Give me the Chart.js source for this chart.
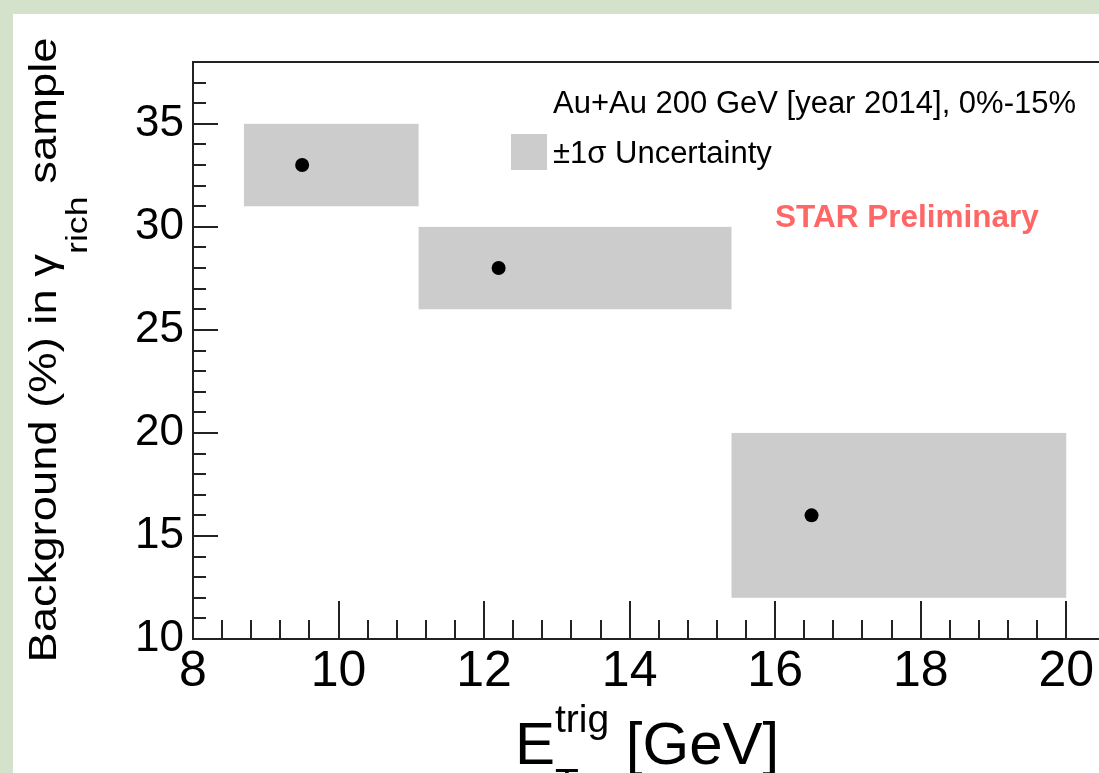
<!DOCTYPE html>
<html>
<head>
<meta charset="utf-8">
<script src="https://cdn.jsdelivr.net/npm/chart.js@4.4.1/dist/chart.umd.min.js"></script>
<style>
  html, body { margin: 0; padding: 0; background: #d4e1cb; }
  canvas { display: block; }
</style>
</head>
<body>
<canvas id="bkgChart" width="1099" height="773"></canvas>
<script>
// Background fraction in the gamma_rich sample, per E_T^trig bin
var etCenter = [9.5, 12.2, 16.5];
var bkgPercent = [33, 28, 16];
// +-1 sigma uncertainty boxes
var binLow = [8.7, 11.1, 15.4];
var binHigh = [11.1, 15.4, 20.0];
var bkgLow = [31, 26, 12];
var bkgHigh = [35, 30, 20];
// axis labels
var xTicks = [8, 10, 12, 14, 16, 18, 20];
var yTicks = [10, 15, 20, 25, 30, 35];

var FONT = "'Liberation Sans', Arial, Helvetica, sans-serif";

var points = etCenter.map(function (x, i) { return { x: x, y: bkgPercent[i] }; });

// ROOT-like look: white pad, boxes, inward ticks, frame, texts
var rootStyle = {
  id: 'rootStyle',
  beforeDraw: function (chart) {
    var c = chart.ctx;
    c.save();
    c.fillStyle = '#ffffff';
    c.fillRect(13, 14, chart.width - 13, chart.height - 14);
    c.restore();
  },
  beforeDatasetsDraw: function (chart) {
    var c = chart.ctx, xs = chart.scales.x, ys = chart.scales.y;
    c.save();
    c.fillStyle = '#cccccc';
    for (var i = 0; i < binLow.length; i++) {
      var x0 = xs.getPixelForValue(binLow[i]), x1 = xs.getPixelForValue(binHigh[i]);
      var y0 = ys.getPixelForValue(bkgHigh[i]), y1 = ys.getPixelForValue(bkgLow[i]);
      c.fillRect(x0, y0, x1 - x0, y1 - y0);
    }
    c.restore();
  },
  afterDraw: function (chart) {
    var c = chart.ctx, a = chart.chartArea, xs = chart.scales.x, ys = chart.scales.y;
    var k, p;
    c.save();
    c.strokeStyle = '#222';
    c.lineWidth = 2;
    // top of the frame
    c.beginPath();
    c.moveTo(a.left, a.top);
    c.lineTo(a.right, a.top);
    c.stroke();

    // tick marks pointing into the frame
    c.beginPath();
    for (k = 0; k <= 30; k++) {
      p = Math.round(xs.getPixelForValue(8 + k * 0.4));
      c.moveTo(p, a.bottom);
      c.lineTo(p, a.bottom - (k % 5 === 0 ? 38 : 19));
    }
    for (k = 0; k <= 28; k++) {
      p = Math.round(ys.getPixelForValue(10 + k));
      c.moveTo(a.left, p);
      c.lineTo(a.left + (k % 5 === 0 ? 25 : 13), p);
    }
    c.stroke();

    // legend
    c.textAlign = 'left';
    c.textBaseline = 'alphabetic';
    c.fillStyle = '#000';
    c.font = '31px ' + FONT;
    c.fillText('Au+Au 200 GeV [year 2014], 0%-15%', 553, 113);
    c.fillStyle = '#cccccc';
    c.fillRect(511, 134, 36, 36);
    c.fillStyle = '#000';
    c.fillText('\u00b11\u03c3 Uncertainty', 553, 163);

    c.fillStyle = '#ff6666';
    c.font = 'bold 31.5px ' + FONT;
    c.fillText('STAR Preliminary', 775, 227);

    // x title: E_T^trig [GeV]
    c.fillStyle = '#000';
    c.font = '60px ' + FONT;
    c.fillText('E', 515, 764);
    var ew = c.measureText('E').width;
    c.font = '39px ' + FONT;
    c.fillText('trig', 515 + ew, 732);
    c.fillText('T', 515 + ew, 796);
    var tw = c.measureText('trig').width;
    c.font = '60px ' + FONT;
    c.fillText(' [GeV]', 515 + ew + tw, 764);

    // y title, rotated
    c.translate(56, 350);
    c.rotate(-Math.PI / 2);
    var mainF = '38px ' + FONT, subF = '30px ' + FONT;
    c.font = mainF;
    var w1 = c.measureText('Background (%) in \u03b3').width;
    var w3 = c.measureText(' sample').width;
    c.font = subF;
    var w2 = c.measureText('rich').width;
    var total = w1 + w2 + w3;
    c.scale(625 / total, 1);
    var s = -total / 2;
    c.font = mainF;
    c.fillText('Background (%) in \u03b3', s, 0);
    c.font = subF;
    c.fillText('rich', s + w1, 31);
    c.font = mainF;
    c.fillText(' sample', s + w1 + w2, 0);
    c.restore();
  }
};

var myChart = new Chart(document.getElementById('bkgChart'), {
  type: 'scatter',
  data: {
    datasets: [{
      data: points,
      backgroundColor: '#000',
      borderWidth: 0,
      pointRadius: 7,
      pointHoverRadius: 7
    }]
  },
  options: {
    responsive: false,
    animation: false,
    devicePixelRatio: 1,
    layout: { autoPadding: false, padding: { top: 62, right: 0, bottom: 0, left: 0 } },
    plugins: { legend: { display: false }, tooltip: { enabled: false } },
    scales: {
      x: {
        type: 'linear',
        min: 8,
        max: 20.45,
        afterBuildTicks: function (s) { s.ticks = xTicks.map(function (v) { return { value: v }; }); },
        afterFit: function (s) { s.height = 134; s.paddingLeft = 0; s.paddingRight = 0; },
        grid: { display: false, drawTicks: false },
        border: { display: true, color: '#222', width: 2 },
        ticks: { color: '#000', font: { family: FONT, size: 50 }, padding: 3, maxRotation: 0, autoSkip: false }
      },
      y: {
        type: 'linear',
        min: 10,
        max: 38,
        afterBuildTicks: function (s) { s.ticks = yTicks.map(function (v) { return { value: v }; }); },
        afterFit: function (s) { s.width = 193; s.paddingTop = 0; s.paddingBottom = 0; },
        grid: { display: false, drawTicks: false },
        border: { display: true, color: '#222', width: 2 },
        ticks: { color: '#000', font: { family: FONT, size: 44 }, padding: 9, autoSkip: false }
      }
    }
  },
  plugins: [rootStyle]
});
</script>
</body>
</html>
